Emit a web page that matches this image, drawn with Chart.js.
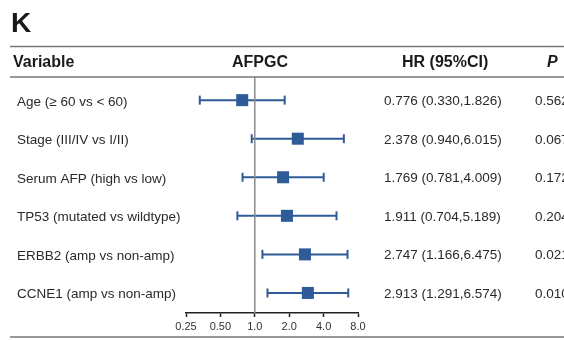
<!DOCTYPE html>
<html>
<head>
    <title>AFPGC multivariate Cox</title>
    <script src="https://cdn.jsdelivr.net/npm/chart.js"></script>
    <style>
        body { margin: 0; background: #fff; }
        #wrap { width: 564px; height: 340px; position: relative; }
    </style>
</head>
<body>
<div id="wrap">
    <canvas id="forest"></canvas>
</div>
<script>
    // forest plot data
    const variables = [
        'Age (\u2265 60 vs < 60)',
        'Stage (III/IV vs I/II)',
        'Serum AFP (high vs low)',
        'TP53 (mutated vs wildtype)',
        'ERBB2 (amp vs non-amp)',
        'CCNE1 (amp vs non-amp)'
    ];
    const hr = [0.776, 2.378, 1.769, 1.911, 2.747, 2.913];
    const ciLow = [0.330, 0.940, 0.781, 0.704, 1.166, 1.291];
    const ciHigh = [1.826, 6.015, 4.009, 5.189, 6.475, 6.574];
    const pValues = ['0.562', '0.067', '0.172', '0.204', '0.021', '0.010'];
    const tickValues = [0.25, 0.5, 1, 2, 4, 8];
    const tickLabels = ['0.25', '0.50', '1.0', '2.0', '4.0', '8.0'];

    const blue = '#2f5b98';
    const font = "'Liberation Sans', Arial, sans-serif";
    const yMin = -0.6, yMax = 5.52;

    let datasets = [];

    // reference line at HR = 1
    datasets.push({
        data: [{x: 1, y: yMin}, {x: 1, y: yMax}],
        showLine: true,
        borderColor: '#8c8c8c',
        borderWidth: 1.5,
        pointRadius: 0
    });

    // confidence intervals with end caps
    variables.forEach((v, i) => {
        datasets.push({
            data: [{x: ciLow[i], y: i}, {x: ciHigh[i], y: i}],
            showLine: true,
            borderColor: blue,
            borderWidth: 2,
            pointStyle: 'line',
            rotation: 90,
            pointRadius: 4.5,
            pointBorderWidth: 2,
            pointBorderColor: blue
        });
    });

    // hazard ratio squares
    datasets.push({
        data: hr.map((v, i) => ({x: v, y: i})),
        pointStyle: 'rect',
        pointRadius: 8.5,
        backgroundColor: blue,
        borderWidth: 0
    });

    // table text and rules around the plot
    const tablePlugin = {
        id: 'tableText',
        afterDraw(chart) {
            const ctx = chart.ctx;
            const yScale = chart.scales.y;
            ctx.save();

            ctx.strokeStyle = '#777';
            ctx.lineWidth = 1.5;
            [46.5, 77].forEach(y => {
                ctx.beginPath();
                ctx.moveTo(10, y);
                ctx.lineTo(564, y);
                ctx.stroke();
            });
            ctx.strokeStyle = '#999';
            ctx.lineWidth = 2;
            ctx.beginPath();
            ctx.moveTo(10, 337);
            ctx.lineTo(564, 337);
            ctx.stroke();

            ctx.fillStyle = '#1a1a1a';
            ctx.textBaseline = 'alphabetic';
            ctx.font = 'bold 28px ' + font;
            ctx.fillText('K', 11, 32);

            ctx.font = 'bold 16px ' + font;
            ctx.fillText('Variable', 13, 67);
            ctx.fillText('AFPGC', 232, 67);
            ctx.fillText('HR (95%CI)', 402, 67);
            ctx.font = 'italic bold 16px ' + font;
            ctx.fillText('P', 547, 67);

            ctx.fillStyle = '#2a2a2a';
            ctx.font = '13.5px ' + font;
            variables.forEach((v, i) => {
                const y = yScale.getPixelForValue(i) + 5.5;
                ctx.fillText(v, 17, y);
                const txt = hr[i].toFixed(3) + ' (' + ciLow[i].toFixed(3) + ',' + ciHigh[i].toFixed(3) + ')';
                ctx.fillText(txt, 384, y - 0.5);
                ctx.fillText(pValues[i], 535, y - 0.5);
            });
            ctx.restore();
        }
    };

    new Chart(document.getElementById('forest'), {
        type: 'scatter',
        data: {datasets: datasets},
        options: {
            responsive: true,
            maintainAspectRatio: false,
            animation: false,
            layout: {padding: {left: 186, right: 206, top: 77, bottom: 0}},
            plugins: {legend: {display: false}, tooltip: {enabled: false}},
            elements: {point: {hitRadius: 0}},
            scales: {
                x: {
                    type: 'logarithmic',
                    min: 0.25,
                    max: 8,
                    afterBuildTicks: scale => {
                        scale.ticks = tickValues.map(v => ({value: v}));
                    },
                    afterFit: scale => { scale.height = 27; },
                    border: {color: '#222', width: 1.5},
                    grid: {drawOnChartArea: false, tickLength: 4, color: '#222', tickWidth: 1.5},
                    ticks: {
                        autoSkip: false,
                        maxRotation: 0,
                        padding: 3,
                        color: '#333',
                        font: {family: "'Liberation Sans Narrow', 'Liberation Sans', sans-serif", size: 11},
                        callback: (val, idx) => tickLabels[idx]
                    }
                },
                y: {
                    type: 'linear',
                    reverse: true,
                    min: yMin,
                    max: yMax,
                    display: false
                }
            }
        },
        plugins: [tablePlugin]
    });
</script>
</body>
</html>
